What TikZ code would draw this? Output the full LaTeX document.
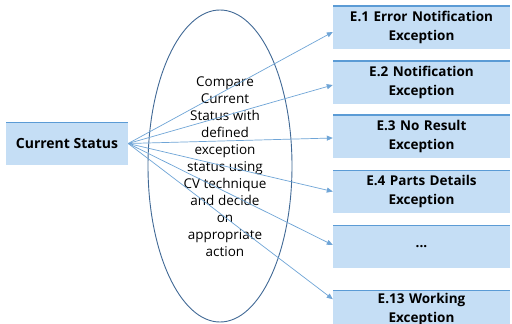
\documentclass[tikz,border=0pt]{standalone}
\usepackage{fontspec}
\setmainfont{Open Sans}
\usetikzlibrary{arrows.meta}
\definecolor{boxfill}{RGB}{197,222,245}
\definecolor{boxtop}{RGB}{91,155,213}
\definecolor{arrowblue}{RGB}{111,165,215}
\definecolor{ovalline}{RGB}{65,105,150}
\tikzset{
  statbox/.style={fill=boxfill, inner sep=0pt, align=center, minimum height=43pt,
    font=\bfseries\fontsize{13.5}{19}\selectfont,
    path picture={\draw[boxtop, line width=2pt] (path picture bounding box.north west) -- (path picture bounding box.north east);}},
  excbox/.style={statbox, minimum width=177pt, text width=176pt},
  link/.style={arrowblue, line width=0.7pt, -{Triangle[length=6pt,width=5pt]}}
}
\begin{document}
\begin{tikzpicture}[x=1pt,y=-1pt]
        \useasboundingbox (0,0) rectangle (512,324);
        \clip (0,0) rectangle (512,324);
        \fill[white] (0,0) rectangle (512,324);
        \draw[ovalline, line width=0.9pt] (220,166) ellipse [x radius=72, y radius=156];
        \node (cmp) [align=center, font=\fontsize{13.5}{17}\selectfont] at (225,167)
                {Compare\\Current\\Status with\\defined\\exception\\status using\\CV technique\\and decide\\on\\appropriate\\action};
        \node (cur) [statbox, minimum width=122pt, font=\bfseries\fontsize{14}{19}\selectfont] at (67,143.5) {Current Status};
        \node (e1) [excbox] at (421.5,27) {E.1 Error Notification\\Exception};
        \node (e2) [excbox] at (421.5,82) {E.2 Notification\\Exception};
        \node (e3) [excbox] at (421.5,136) {E.3 No Result\\Exception};
        \node (e4) [excbox] at (421.5,191.5) {E.4 Parts Details\\Exception};
        \node (e5) [excbox] at (421.5,246.5) {...};
        \node (e6) [excbox, minimum height=38pt, anchor=north] at (421.5,290) {E.13 Working\\Exception};
        \foreach \n/\dy in {e1/-5,e2/-3,e3/-2,e4/0,e5/1.5,e6/10} {
        \draw[link] (cur.east) -- ([yshift=\dy pt]\n.west);
        }
\end{tikzpicture}
\end{document}
